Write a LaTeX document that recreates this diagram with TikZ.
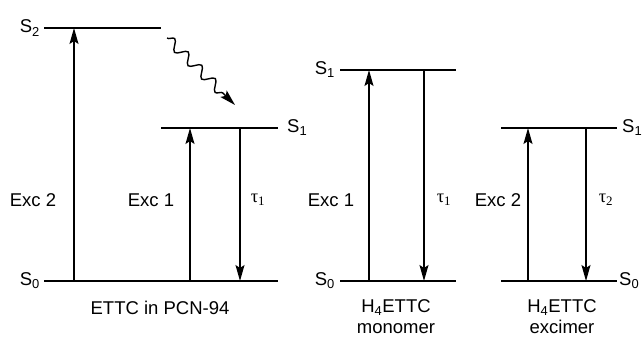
\documentclass[tikz,border=0pt]{standalone}
\usepackage{fontspec}
\setmainfont{Liberation Sans}
\newfontfamily\greekfont{Liberation Serif}
\usetikzlibrary{arrows.meta,positioning,decorations.pathmorphing}

\tikzset{
  level/.style={line width=1.6pt},
  trans/.style={line width=1.4pt, -{Stealth[length=16pt,width=9pt,inset=3pt]}},
  lbl/.style={font=\fontsize{18.5}{21}\selectfont, inner sep=0pt},
}
\newcommand{\lifet}[1]{{\greekfont τ\textsubscript{#1}}}

\begin{document}
\begin{tikzpicture}[x=1pt,y=-1pt]
    \useasboundingbox (0,0) rectangle (644,340);

    % ETTC in PCN-94
    \coordinate (s2a) at (44,28);   \coordinate (s2b) at (161,28);
    \coordinate (s1a) at (161,128); \coordinate (s1b) at (278,128);
    \coordinate (s0a) at (44,281);  \coordinate (s0b) at (278,281);
    \draw[level] (s2a) -- (s2b);
    \draw[level] (s1a) -- (s1b);
    \draw[level] (s0a) -- (s0b);
    \node[lbl, left=4pt of s2a] (ls2) {S\textsubscript{2}};
    \node[lbl, right=9pt of s1b] (ls1) {S\textsubscript{1}};
    \node[lbl, left=4pt of s0a] (ls0) {S\textsubscript{0}};

    \coordinate (e2f) at (74,281);  \coordinate (e2h) at (74,28);
    \coordinate (e1f) at (190,281); \coordinate (e1h) at (190,128);
    \coordinate (t1f) at (240,128); \coordinate (t1h) at (240,281);
    \draw[trans] (e2f) -- (e2h);
    \draw[trans] (e1f) -- (e1h);
    \draw[trans] (t1f) -- (t1h);
    \node[lbl] (le2) at (33,200) {Exc 2};
    \node[lbl] (le1) at (151,200) {Exc 1};
    \node[lbl] (lt1) at (258,200) {\lifet{1}};

    % internal conversion
    \coordinate (icf) at (167,38); \coordinate (ich) at (235,105);
    \draw[trans, decorate, decoration={snake, amplitude=5pt, segment length=19pt, post length=16pt}] (icf) -- (ich);

    \node[lbl] (nm1) at (160,308) {ETTC in PCN-94};

    % H4ETTC monomer
    \coordinate (m1a) at (340,70);  \coordinate (m1b) at (456,70);
    \coordinate (m0a) at (340,281); \coordinate (m0b) at (456,281);
    \draw[level] (m1a) -- (m1b);
    \draw[level] (m0a) -- (m0b);
    \node[lbl, left=5pt of m1a] (lm1) {S\textsubscript{1}};
    \node[lbl, left=5pt of m0a] (lm0) {S\textsubscript{0}};

    \coordinate (me1f) at (369,281); \coordinate (me1h) at (369,70);
    \coordinate (mt1f) at (424,70);  \coordinate (mt1h) at (424,281);
    \draw[trans] (me1f) -- (me1h);
    \draw[trans] (mt1f) -- (mt1h);
    \node[lbl] (lme1) at (331,200) {Exc 1};
    \node[lbl] (lmt1) at (444,200) {\lifet{1}};

    \node[lbl, align=center] (nm2) at (396,317) {H\textsubscript{4}ETTC\\monomer};

    % H4ETTC excimer
    \coordinate (x1a) at (501,128); \coordinate (x1b) at (617,128);
    \coordinate (x0a) at (501,281); \coordinate (x0b) at (617,281);
    \draw[level] (x1a) -- (x1b);
    \draw[level] (x0a) -- (x0b);
    \node[lbl, right=5pt of x1b] (lx1) {S\textsubscript{1}};
    \node[lbl, right=2pt of x0b] (lx0) {S\textsubscript{0}};

    \coordinate (xe2f) at (528,281); \coordinate (xe2h) at (528,128);
    \coordinate (xt2f) at (586,128); \coordinate (xt2h) at (586,281);
    \draw[trans] (xe2f) -- (xe2h);
    \draw[trans] (xt2f) -- (xt2h);
    \node[lbl] (lxe2) at (498,200) {Exc 2};
    \node[lbl] (lxt2) at (606,200) {\lifet{2}};

    \node[lbl, align=center] (nm3) at (562,317) {H\textsubscript{4}ETTC\\excimer};
\end{tikzpicture}
\end{document}
